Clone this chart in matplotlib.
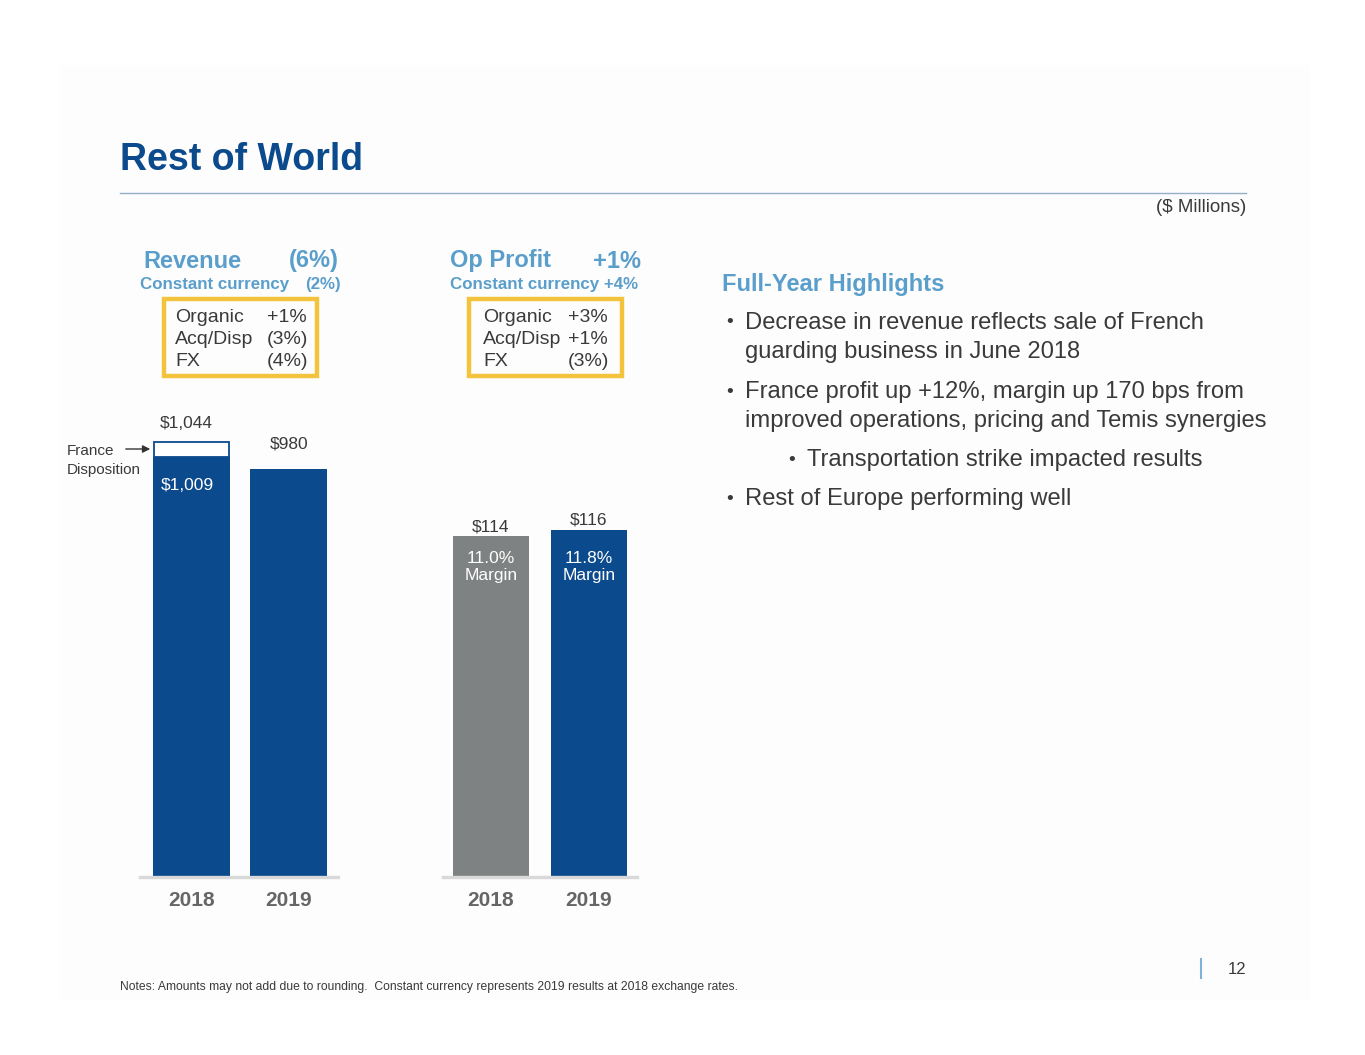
import matplotlib
matplotlib.use("Agg")
import matplotlib.pyplot as plt
from matplotlib.patches import Rectangle, FancyArrowPatch
from matplotlib.lines import Line2D

plt.rcParams['font.family'] = ['Liberation Sans', 'DejaVu Sans']

# ---------------- data ----------------
years = ["2018", "2019"]
revenue = [1044, 980]
revenue_2018_ex_france = 1009
revenue_labels = ["$1,044", "$980"]
revenue_inner_label = "$1,009"
op_profit = [114, 116]
op_profit_labels = ["$114", "$116"]
margins = ["11.0%", "11.8%"]

rev_bridge_items = ["Organic", "Acq/Disp", "FX"]
rev_bridge_vals = ["+1%", "(3%)", "(4%)"]
op_bridge_items = ["Organic", "Acq/Disp", "FX"]
op_bridge_vals = ["+3%", "+1%", "(3%)"]

highlights = [
    (0, "Decrease in revenue reflects sale of French\nguarding business in June 2018"),
    (0, "France profit up +12%, margin up 170 bps from\nimproved operations, pricing and Temis synergies"),
    (1, "Transportation strike impacted results"),
    (0, "Rest of Europe performing well"),
]

# ---------------- styles ----------------
W, H = 1365, 1055
NAVY = "#0b4a8c"
LIGHTBLUE = "#5a9ecb"
GREY_BAR = "#7f8282"
DARK = "#3a3a3a"
YEARGREY = "#666666"
GOLD = "#f4c33d"
DY = 2  # small vertical text nudge

fig = plt.figure(figsize=(W / 100, H / 100), dpi=100)
fig.patch.set_facecolor("white")


def fx(x):
    return x / W


def fy(y):
    return 1 - y / H


def t(x, y, s, **kw):
    kw.setdefault("va", "center")
    kw.setdefault("ha", "left")
    fig.text(fx(x), fy(y + DY), s, **kw)


# faint slide background
fig.patches.append(Rectangle((fx(60), fy(1000)), fx(1310) - fx(60), fy(65) - fy(1000),
                             transform=fig.transFigure, facecolor="#fdfdfd",
                             edgecolor="none", zorder=-5))

# title and rule
t(120, 158, "Rest of World", fontsize=27, fontweight="bold", color=NAVY)
fig.lines.append(Line2D([fx(120), fx(1246)], [fy(193), fy(193)], transform=fig.transFigure,
                        color="#8fb0c6", lw=1))
t(1246, 206, "($ Millions)", fontsize=13.5, color=DARK, ha="right")

# ---------------- revenue header ----------------
t(143, 259, "Revenue", fontsize=17, fontweight="bold", color=LIGHTBLUE)
t(339, 259, "(6%)", fontsize=17, fontweight="bold", color=LIGHTBLUE, ha="right")
t(140, 283, "Constant currency", fontsize=12.2, fontweight="bold", color=LIGHTBLUE)
t(341, 283, "(2%)", fontsize=12.2, fontweight="bold", color=LIGHTBLUE, ha="right")

fig.patches.append(Rectangle((fx(164), fy(376)), fx(317) - fx(164), fy(299) - fy(376),
                             transform=fig.transFigure, facecolor="none",
                             edgecolor=GOLD, lw=3.2))
for i, (a, b) in enumerate(zip(rev_bridge_items, rev_bridge_vals)):
    t(175, 316 + 22 * i, a, fontsize=14, color=DARK)
    t(267, 316 + 22 * i, b, fontsize=14, color=DARK)

# ---------------- op profit header ----------------
t(450, 259, "Op Profit", fontsize=17, fontweight="bold", color=LIGHTBLUE)
t(641, 259, "+1%", fontsize=17, fontweight="bold", color=LIGHTBLUE, ha="right")
t(450, 283, "Constant currency +4%", fontsize=12.2, fontweight="bold", color=LIGHTBLUE)

fig.patches.append(Rectangle((fx(469), fy(376)), fx(622) - fx(469), fy(299) - fy(376),
                             transform=fig.transFigure, facecolor="none",
                             edgecolor=GOLD, lw=3.2))
for i, (a, b) in enumerate(zip(op_bridge_items, op_bridge_vals)):
    t(483, 316 + 22 * i, a, fontsize=14, color=DARK)
    t(568, 316 + 22 * i, b, fontsize=14, color=DARK)


def setup_axes(ax, xl, top):
    ax.set_facecolor("none")
    ax.set_xlim(*xl)
    ax.set_ylim(0, top)
    for s in ["top", "left", "right"]:
        ax.spines[s].set_visible(False)
    ax.spines["bottom"].set_color("#d9d9d9")
    ax.spines["bottom"].set_linewidth(2.4)
    ax.set_yticks([])
    ax.set_xticks([])


# ---------------- revenue chart ----------------
ax1 = fig.add_axes([fx(140), fy(877), fx(338) - fx(140), fy(300) - fy(877)])
px_per_unit1 = 435 / revenue[0]
setup_axes(ax1, (-0.528, 1.503), 577 / px_per_unit1)
bw = 77 / 97.5
ax1.bar([0], [revenue_2018_ex_france], width=bw, color=NAVY, zorder=2)
ax1.bar([0], [revenue[0] - revenue_2018_ex_france], bottom=[revenue_2018_ex_france],
        width=bw * 0.985, color="white", edgecolor=NAVY, lw=1.3, zorder=2)
ax1.bar([1], [revenue[1]], width=bw, color=NAVY, zorder=2)

ax1.annotate(revenue_labels[0], (0, revenue[0]), xytext=(-5, 21 - DY), textcoords="offset pixels",
             ha="center", va="center", fontsize=12.5, color=DARK, annotation_clip=False)
ax1.annotate(revenue_labels[1], (1, revenue[1]), xytext=(0, 27 - DY), textcoords="offset pixels",
             ha="center", va="center", fontsize=12.5, color=DARK, annotation_clip=False)
ax1.annotate(revenue_inner_label, (0, revenue_2018_ex_france), xytext=(-4, -29),
             textcoords="offset pixels", ha="center", va="center", fontsize=12.5,
             color="white", annotation_clip=False, zorder=3)
for i, y in enumerate(years):
    ax1.annotate(y, (i, 0), xytext=(0, -22 - DY), textcoords="offset pixels", ha="center",
                 va="center", fontsize=15, fontweight="bold", color=YEARGREY,
                 annotation_clip=False)

# France disposition callout
t(67, 449, "France", fontsize=11, color=DARK)
t(67, 468, "Disposition", fontsize=11, color=DARK)
fig.add_artist(FancyArrowPatch((fx(123), fy(449)), (fx(153), fy(449)),
                               transform=fig.transFigure,
                               arrowstyle="-|>", mutation_scale=11,
                               color="#333333", lw=1))

# ---------------- op profit chart ----------------
ax2 = fig.add_axes([fx(443), fy(877), fx(637) - fx(443), fy(300) - fy(877)])
px_per_unit2 = 341 / op_profit[0]
setup_axes(ax2, (-0.49, 1.49), 577 / px_per_unit2)
bw2 = 76 / 98
ax2.bar([0, 1], op_profit, width=bw2, color=[GREY_BAR, NAVY], zorder=2)
offs = [11, 12]
for i, (v, lab) in enumerate(zip(op_profit, op_profit_labels)):
    ax2.annotate(lab, (i, v), xytext=(0, offs[i] - DY), textcoords="offset pixels",
                 ha="center", va="center", fontsize=12.5, color=DARK, annotation_clip=False)
    ax2.annotate(margins[i] + "\nMargin", (i, op_profit[0]), xytext=(0, -31),
                 textcoords="offset pixels", ha="center", va="center", fontsize=12.5,
                 color="white", linespacing=1.2, annotation_clip=False, zorder=3)
for i, y in enumerate(years):
    ax2.annotate(y, (i, 0), xytext=(0, -21 - DY), textcoords="offset pixels", ha="center",
                 va="center", fontsize=15, fontweight="bold", color=YEARGREY,
                 annotation_clip=False)

# ---------------- highlights ----------------
t(722, 282, "Full-Year Highlights", fontsize=17, fontweight="bold", color=LIGHTBLUE)
line_y = [321, 390, 458, 497]
for (lvl, txt), y in zip(highlights, line_y):
    bx = 726 if lvl == 0 else 788
    tx = 745 if lvl == 0 else 807
    t(bx, y, "•", fontsize=14, color=DARK)
    for j, ln in enumerate(txt.split("\n")):
        t(tx, y + 29 * j, ln, fontsize=17.1, color=DARK)

# ---------------- footer ----------------
t(120, 985, "Notes: Amounts may not add due to rounding.  Constant currency represents "
            "2019 results at 2018 exchange rates.", fontsize=8.7, color=DARK)
fig.lines.append(Line2D([fx(1201), fx(1201)], [fy(959), fy(978)], transform=fig.transFigure,
                        color="#7fb2d6", lw=1.5))
t(1246, 968, "12", fontsize=12, color=DARK, ha="right")

fig.savefig("out.png", dpi=100, facecolor="white")
